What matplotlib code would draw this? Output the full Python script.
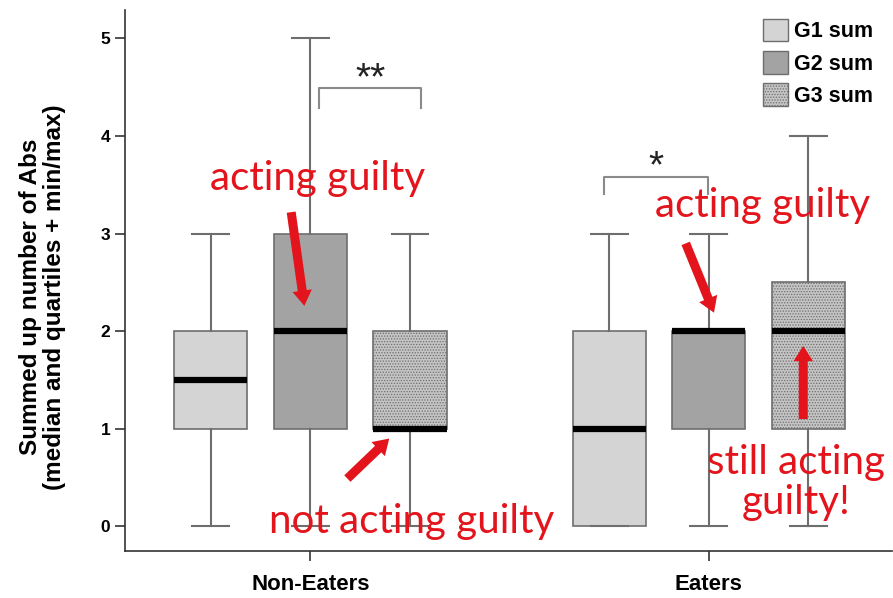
import matplotlib
matplotlib.use("Agg")
import matplotlib.pyplot as plt
from matplotlib.patches import Patch

# data (min, q1, median, q3, max)
groups = ["Non-Eaters", "Eaters"]
series = ["G1 sum", "G2 sum", "G3 sum"]
mins = [[0, 0, 0], [0, 0, 0]]
q1s = [[1, 1, 1], [0, 1, 1]]
medians = [[1.5, 2, 1], [1, 2, 2]]
q3s = [[2, 3, 2], [2, 2, 2.5]]
maxs = [[3, 5, 3], [3, 3, 4]]

face = ["#d4d4d4", "#a3a3a3", "#c4c4c4"]
hatches = [None, None, "......"]
red = "#e3141c"
gray = "#6e6e6e"

plt.rcParams["font.family"] = ["Liberation Sans", "DejaVu Sans"]
plt.rcParams["hatch.linewidth"] = 0.6

fig = plt.figure(figsize=(8.93, 5.98), dpi=100)
ax = fig.add_axes([0.14, 0.078, 0.859, 0.905])

offset = 0.25
width = 0.184
for gi, g in enumerate(groups):
    for si in range(len(series)):
        st = dict(whislo=mins[gi][si], q1=q1s[gi][si], med=medians[gi][si],
                  q3=q3s[gi][si], whishi=maxs[gi][si], fliers=[])
        pos = gi + 1 + (si - 1) * offset
        b = ax.bxp([st], positions=[pos], widths=width, patch_artist=True,
                   showfliers=False,
                   boxprops=dict(facecolor=face[si], edgecolor=gray, linewidth=1.2),
                   whiskerprops=dict(color=gray, linewidth=1.5),
                   capprops=dict(color=gray, linewidth=1.5),
                   medianprops=dict(color="black", linewidth=4.5, solid_capstyle="butt"))
        if hatches[si]:
            b["boxes"][0].set_hatch(hatches[si])
        b["boxes"][0].set_zorder(2)

ax.set_xlim(0.535, 2.46)
ax.set_ylim(-0.256, 5.29)
ax.set_xticks([1, 2])
ax.set_xticklabels(groups, fontsize=16, fontweight="bold")
ax.set_yticks(range(6))
ax.set_yticklabels([str(v) for v in range(6)], fontsize=12.5, fontweight="bold")
for s in ["top", "right"]:
    ax.spines[s].set_visible(False)
for s in ["left", "bottom"]:
    ax.spines[s].set_color("#333333")
    ax.spines[s].set_linewidth(1.2)
ax.tick_params(axis="both", colors="#333333", width=1.2, length=7, labelcolor="black")
ax.tick_params(axis="x", pad=9)
ax.set_ylabel("Summed up number of Abs\n(median and quartiles + min/max)",
              fontsize=17.5, fontweight="bold", linespacing=1.05)
ax.yaxis.set_label_coords(-0.077, 0.47)

handles = [Patch(facecolor=face[i], edgecolor=gray, hatch=hatches[i], label=series[i])
           for i in range(3)]
leg = ax.legend(handles=handles, loc="upper right", bbox_to_anchor=(1.0, 1.02),
                frameon=False, prop=dict(size=15.5, weight="bold"),
                handlelength=1.15, handleheight=1.25, handletextpad=0.25,
                labelspacing=0.4)

# significance brackets
def bracket(x1, x2, y, drop, label, ty):
    ax.plot([x1, x1, x2, x2], [y - drop, y, y, y - drop], color="#8a8a8a", lw=1.5,
            solid_joinstyle="round")
    ax.text((x1 + x2) / 2, ty, label, ha="center", va="center", fontsize=28,
            color="#222222")

bracket(1.023, 1.279, 4.49, 0.2, "**", 4.58)
bracket(1.736, 1.997, 3.58, 0.17, "*", 3.68)

# red annotations
afont = dict(family=["Lato", "DejaVu Sans"], fontsize=29, color=red)
arrow = dict(facecolor=red, edgecolor="none", width=6.5, headwidth=14,
             headlength=11, shrink=0)

ax.text(1.018, 3.57, "acting guilty", ha="center", va="center", **afont)
ax.annotate("", xy=(0.985, 2.26), xytext=(0.952, 3.22), arrowprops=arrow)

ax.text(1.254, 0.05, "not acting guilty", ha="center", va="center", **afont)
ax.annotate("", xy=(1.198, 0.90), xytext=(1.093, 0.49), arrowprops=arrow)

ax.text(2.135, 3.29, "acting guilty", ha="center", va="center", **afont)
ax.annotate("", xy=(2.013, 2.19), xytext=(1.942, 2.90), arrowprops=arrow)

ax.text(2.22, 0.45, "still acting\nguilty!", ha="center", va="center",
        linespacing=1.1, clip_on=False, **afont)
ax.annotate("", xy=(2.237, 1.85), xytext=(2.237, 1.10), arrowprops=arrow)

fig.savefig("out.png", dpi=100)
